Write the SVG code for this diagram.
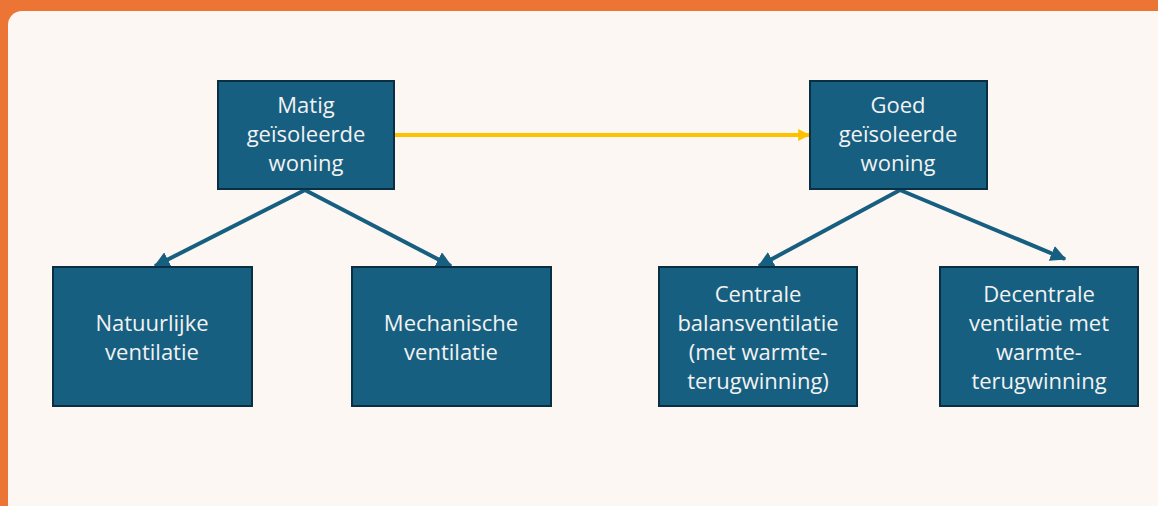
<svg xmlns="http://www.w3.org/2000/svg" width="1158" height="506" viewBox="0 0 1158 506">
<defs>
<style>
.node rect{fill:#175f80;stroke:#0b2f42;stroke-width:2}
.node text{fill:#f2f2f2;font-family:"Open Sans","Liberation Sans",sans-serif;font-size:22px;text-anchor:middle}
.blue{stroke:#175f80;stroke-width:4;fill:none}
.gold{stroke:#ffc000;stroke-width:4;fill:none}
</style>
<marker id="ab" viewBox="0 0 10 10" refX="9" refY="5" markerWidth="4" markerHeight="4" orient="auto" markerUnits="strokeWidth">
<path d="M0,0 L10,5 L0,10 z" fill="#175f80"/>
</marker>
<marker id="ag" viewBox="0 0 10 10" refX="9" refY="5" markerWidth="3" markerHeight="3" orient="auto" markerUnits="strokeWidth">
<path d="M0,0 L10,5 L0,10 z" fill="#ffc000"/>
</marker>
</defs>
<rect x="0" y="0" width="1158" height="506" fill="#ec7434"/>
<rect x="8" y="11" width="1170" height="520" rx="14" fill="#fcf7f3"/>
<g id="connectors">
<line class="gold" x1="394" y1="135" x2="809" y2="135" marker-end="url(#ag)"/>
<line class="blue" x1="305" y1="190" x2="155" y2="266" marker-end="url(#ab)"/>
<line class="blue" x1="305" y1="190" x2="451" y2="266" marker-end="url(#ab)"/>
<line class="blue" x1="900" y1="190" x2="759" y2="266" marker-end="url(#ab)"/>
<line class="blue" x1="900" y1="190" x2="1065" y2="259" marker-end="url(#ab)"/>
</g>
<g id="matig" class="node">
<rect x="218" y="81" width="176" height="108"/>
<text x="306" y="113">Matig</text>
<text x="306" y="142">geïsoleerde</text>
<text x="306" y="171">woning</text>
</g>
<g id="goed" class="node">
<rect x="810" y="81" width="177" height="108"/>
<text x="898" y="113">Goed</text>
<text x="898" y="142">geïsoleerde</text>
<text x="898" y="171">woning</text>
</g>
<g id="natuurlijk" class="node">
<rect x="53" y="267" width="199" height="139"/>
<text x="152" y="331">Natuurlijke</text>
<text x="152" y="360">ventilatie</text>
</g>
<g id="mechanisch" class="node">
<rect x="352" y="267" width="199" height="139"/>
<text x="451" y="331">Mechanische</text>
<text x="451" y="360">ventilatie</text>
</g>
<g id="centraal" class="node">
<rect x="659" y="267" width="198" height="139"/>
<text x="758" y="302">Centrale</text>
<text x="758" y="331">balansventilatie</text>
<text x="758" y="360">(met warmte-</text>
<text x="758" y="389">terugwinning)</text>
</g>
<g id="decentraal" class="node">
<rect x="940" y="267" width="198" height="139"/>
<text x="1039" y="302">Decentrale</text>
<text x="1039" y="331">ventilatie met</text>
<text x="1039" y="360">warmte-</text>
<text x="1039" y="389">terugwinning</text>
</g>
</svg>
